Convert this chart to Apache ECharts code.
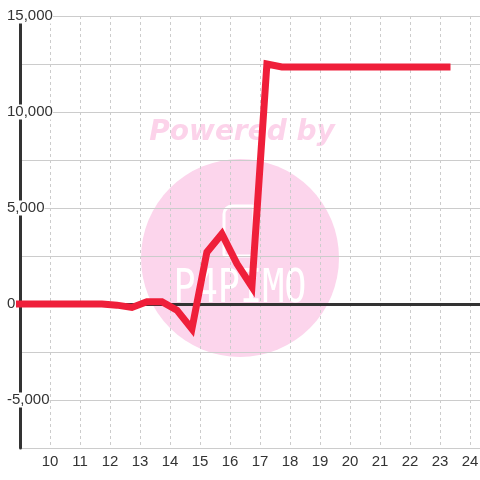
<!DOCTYPE html>
<html>
<head>
<meta charset="utf-8">
<script src="https://cdn.jsdelivr.net/npm/echarts@6/dist/echarts.min.js"></script>
<style>
    html, body { margin: 0; padding: 0; background: #fff; }
    #chart { width: 480px; height: 480px; }
</style>
</head>
<body>
<div id="chart"></div>
<script>
// values
const times = [8.73, 9.23, 9.73, 10.23, 10.73, 11.23, 11.73, 12.23, 12.73, 13.23, 13.73, 14.23,
    14.73, 15.23, 15.73, 16.23, 16.73, 17.23, 17.73, 18.23, 18.73, 19.23, 19.73, 20.23,
    20.73, 21.23, 21.73, 22.23, 22.73, 23.35];
const values = [0, 0, 0, 0, 0, 0, 0, -60, -180, 120, 120, -320,
    -1300, 2700, 3650, 2100, 900, 12500, 12350, 12350, 12350, 12350, 12350, 12350,
    12350, 12350, 12350, 12350, 12350, 12350];
const yTicks = [-5000, 0, 5000, 10000, 15000];

const chart = echarts.init(document.getElementById('chart'));

chart.setOption({
    backgroundColor: '#fff',
    animation: false,
    grid: {
        left: 20,
        top: 16,
        width: 465,
        height: 432,
        outerBoundsMode: 'none'
    },
    graphic: {
        z: -10,
        elements: [
            {
                type: 'circle',
                z: -10,
                shape: { cx: 240, cy: 258, r: 99 },
                style: { fill: '#fcd5ec' }
            },
            {
                type: 'text',
                z: -10,
                x: 242,
                y: 133,
                style: {
                    text: 'Powered by',
                    font: 'italic bold 28px "DejaVu Sans"',
                    fill: '#fcd3ea',
                    align: 'center',
                    verticalAlign: 'middle'
                }
            },
            {
                type: 'rect',
                z: -10,
                shape: { x: 224, y: 206, width: 30, height: 50, r: [8, 2, 2, 2] },
                style: { fill: 'none', stroke: '#fff', lineWidth: 3 }
            },
            {
                type: 'text',
                z: -10,
                x: 240,
                y: 290,
                scaleX: 0.8,
                style: {
                    text: 'P4PIMO',
                    font: '46px "DejaVu Sans Mono"',
                    fill: '#fff',
                    align: 'center',
                    verticalAlign: 'middle'
                }
            }
        ]
    },
    xAxis: [
        {
            type: 'value',
            min: 9,
            max: 24.5,
            interval: 1,
            axisLine: { show: false, onZero: false },
            axisTick: { show: false },
            axisLabel: {
                showMinLabel: false,
                showMaxLabel: false,
                color: '#333',
                fontSize: 15,
                fontFamily: 'Liberation Sans',
                margin: 6
            },
            splitLine: {
                lineStyle: { color: '#ccc', type: [3, 3], width: 1 }
            }
        },
        {
            // dark zero line
            type: 'value',
            position: 'top',
            min: 9,
            max: 24.5,
            axisLine: { show: true, onZero: true, lineStyle: { color: '#333', width: 3 } },
            axisTick: { show: false },
            axisLabel: { show: false },
            splitLine: { show: false }
        }
    ],
    yAxis: {
        type: 'value',
        min: -7500,
        max: 15000,
        interval: 2500,
        axisLine: { show: true, onZero: false, lineStyle: { color: '#333', width: 3 } },
        axisTick: { show: false },
        axisLabel: {
            align: 'left',
            margin: 13,
            color: '#333',
            fontSize: 15,
            fontFamily: 'Liberation Sans',
            lineHeight: 15,
            backgroundColor: '#fff',
            formatter: function (v) {
                return yTicks.indexOf(v) >= 0 ? v.toLocaleString('en-US') : '';
            }
        },
        splitLine: {
            lineStyle: { color: '#ccc', width: 1 }
        }
    },
    series: [
        {
            type: 'line',
            z: 10,
            xAxisIndex: 0,
            data: times.map((t, i) => [t, values[i]]),
            showSymbol: false,
            lineStyle: {
                color: '#ef1f3a',
                width: 7,
                join: 'miter'
            }
        }
    ]
});
</script>
</body>
</html>
